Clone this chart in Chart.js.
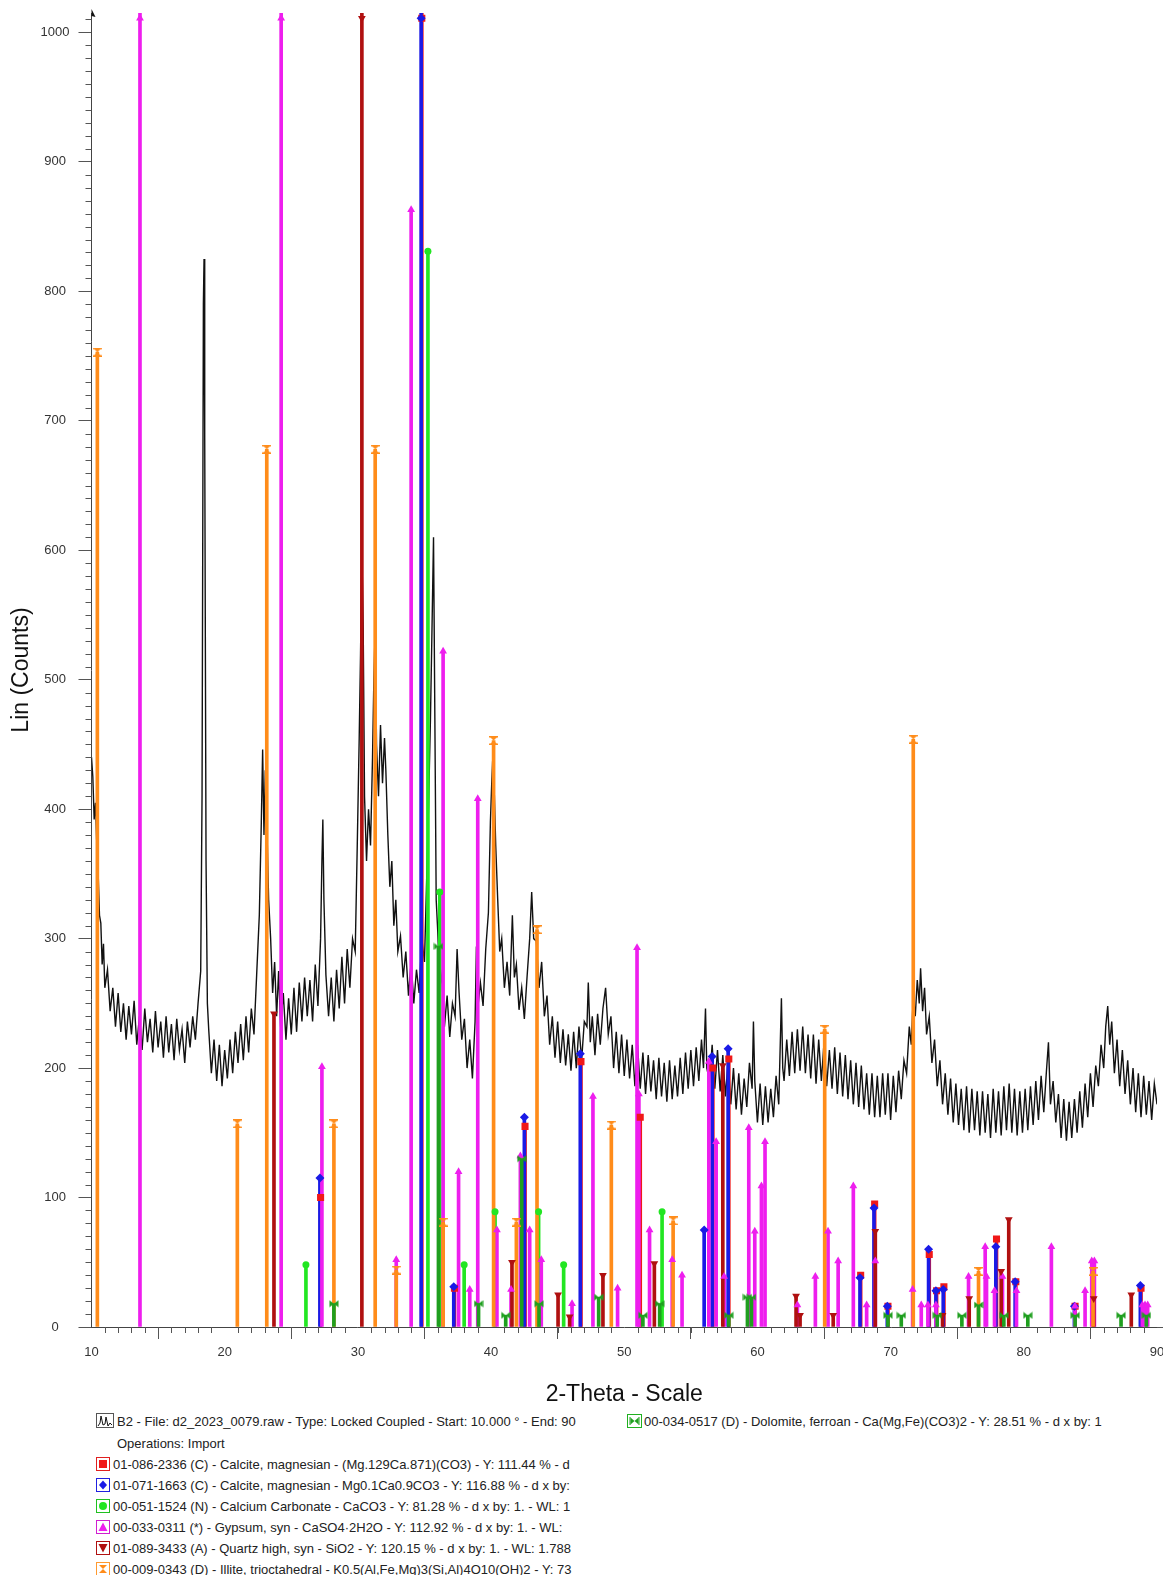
<!DOCTYPE html>
<html>
<head>
<meta charset="utf-8">
<script src="https://cdn.jsdelivr.net/npm/chart.js@4.4.0/dist/chart.umd.min.js"></script>
<style>
    body { margin: 0; background: #fff; width: 1163px; height: 1575px; overflow: hidden; position: relative; font-family: "Liberation Sans", Arial, sans-serif; }
    #myChart { position: absolute; left: 0; top: 0; }
    .row { position: absolute; font-size: 13px; color: #222; white-space: nowrap; overflow: hidden; height: 17px; line-height: 17px; }
    .icon { position: absolute; }
</style>
</head>
<body>
<canvas id="myChart" width="1163" height="1410"></canvas>

<svg class="icon" style="left:96px;top:1413px" width="18" height="15">
    <rect x="0.5" y="0.5" width="17" height="14" fill="#fff" stroke="#555"/>
    <polyline points="2,13 4,10 5,3 7,12 9,11 10,4 12,13 14,10 16,12" fill="none" stroke="#111" stroke-width="1"/>
</svg>
<div class="row" style="left:117px;top:1413px;width:512px">B2 - File: d2_2023_0079.raw - Type: Locked Coupled - Start: 10.000 ° - End: 90</div>
<div class="row" style="left:117px;top:1435px;width:512px">Operations: Import</div>

<svg class="icon" style="left:96px;top:1457px" width="14" height="14">
    <rect x="0.5" y="0.5" width="13" height="13" fill="#fff" stroke="#e02020"/>
    <rect x="3" y="3" width="8" height="8" fill="#f01818"/>
</svg>
<div class="row" style="left:113px;top:1456px;width:516px">01-086-2336 (C) - Calcite, magnesian - (Mg.129Ca.871)(CO3) - Y: 111.44 % - d</div>

<svg class="icon" style="left:96px;top:1478px" width="14" height="14">
    <rect x="0.5" y="0.5" width="13" height="13" fill="#fff" stroke="#2020e0"/>
    <polygon points="7,2.5 11,7 7,11.5 3,7" fill="#1a1ae6"/>
</svg>
<div class="row" style="left:113px;top:1477px;width:516px">01-071-1663 (C) - Calcite, magnesian - Mg0.1Ca0.9CO3 - Y: 116.88 % - d x by:</div>

<svg class="icon" style="left:96px;top:1499px" width="14" height="14">
    <rect x="0.5" y="0.5" width="13" height="13" fill="#fff" stroke="#20c020"/>
    <circle cx="7" cy="7" r="4" fill="#22e622"/>
</svg>
<div class="row" style="left:113px;top:1498px;width:516px">00-051-1524 (N) - Calcium Carbonate - CaCO3 - Y: 81.28 % - d x by: 1. - WL: 1</div>

<svg class="icon" style="left:96px;top:1520px" width="14" height="14">
    <rect x="0.5" y="0.5" width="13" height="13" fill="#fff" stroke="#d020d0"/>
    <polygon points="7,2.5 11.5,11 2.5,11" fill="#ee1eee"/>
</svg>
<div class="row" style="left:113px;top:1519px;width:516px">00-033-0311 (*) - Gypsum, syn - CaSO4·2H2O - Y: 112.92 % - d x by: 1. - WL:</div>

<svg class="icon" style="left:96px;top:1541px" width="14" height="14">
    <rect x="0.5" y="0.5" width="13" height="13" fill="#fff" stroke="#b01010"/>
    <polygon points="2.5,3 11.5,3 7,11.5" fill="#b01010"/>
</svg>
<div class="row" style="left:113px;top:1540px;width:516px">01-089-3433 (A) - Quartz high, syn - SiO2 - Y: 120.15 % - d x by: 1. - WL: 1.788</div>

<svg class="icon" style="left:96px;top:1562px" width="14" height="14">
    <rect x="0.5" y="0.5" width="13" height="13" fill="#fff" stroke="#ff9a30"/>
    <polygon points="3,3 11,3 7,7 11,11 3,11 7,7" fill="#ff8c1a"/>
</svg>
<div class="row" style="left:113px;top:1561px;width:516px">00-009-0343 (D) - Illite, trioctahedral - K0.5(Al,Fe,Mg)3(Si,Al)4O10(OH)2 - Y: 73</div>

<svg class="icon" style="left:627px;top:1414px" width="15" height="14">
    <rect x="0.5" y="0.5" width="14" height="13" fill="#fff" stroke="#20b020"/>
    <polygon points="3.5,3.5 7.5,7 3.5,10.5" fill="#1f9f1f"/>
    <polygon points="11.5,3.5 7.5,7 11.5,10.5" fill="#1f9f1f"/>
    <line x1="3" y1="3" x2="3" y2="11" stroke="#1f9f1f"/>
    <line x1="12" y1="3" x2="12" y2="11" stroke="#1f9f1f"/>
</svg>
<div class="row" style="left:644px;top:1413px;width:510px">00-034-0517 (D) - Dolomite, ferroan - Ca(Mg,Fe)(CO3)2 - Y: 28.51 % - d x by: 1</div>

<script>
// axis ranges
var xMin = 10, xMax = 90;
var yMin = 0, yMax = 1015;
var markerCap = 1011; // clipped sticks show their marker at the top of the plot

// measured scan, [2-theta, counts]
var scanPoints = [
    [10.0, 440], [10.1, 425], [10.2, 392], [10.3, 405], [10.4, 372], [10.5, 350], [10.6, 318], [10.7, 312], [10.8, 280], [10.9, 296],
    [11.0, 262], [11.2, 276], [11.4, 244], [11.6, 262], [11.8, 232], [12.0, 258], [12.2, 228], [12.4, 250], [12.6, 222], [12.8, 248],
    [13.0, 226], [13.2, 252], [13.4, 218], [13.6, 240], [13.8, 214], [14.0, 246], [14.2, 220], [14.4, 238], [14.6, 212], [14.8, 244],
    [15.0, 216], [15.2, 236], [15.4, 208], [15.6, 240], [15.8, 212], [16.0, 234], [16.2, 206], [16.4, 238], [16.6, 214], [16.8, 230],
    [17.0, 204], [17.2, 236], [17.4, 216], [17.6, 240], [17.8, 222], [18.0, 250], [18.2, 275], [18.3, 410], [18.4, 790], [18.45, 825],
    [18.5, 690], [18.6, 360], [18.7, 250], [18.8, 230], [19.0, 196], [19.2, 222], [19.4, 190], [19.6, 218], [19.8, 186], [20.0, 214],
    [20.2, 192], [20.4, 222], [20.6, 196], [20.8, 228], [21.0, 204], [21.2, 234], [21.4, 206], [21.6, 240], [21.8, 212], [22.0, 246],
    [22.2, 226], [22.4, 272], [22.6, 318], [22.75, 390], [22.85, 446], [22.95, 380], [23.05, 430], [23.15, 395], [23.3, 330], [23.45, 300],
    [23.6, 258], [23.75, 282], [23.9, 240], [24.05, 275], [24.2, 232], [24.4, 258], [24.6, 222], [24.8, 254], [25.0, 226], [25.2, 262],
    [25.4, 228], [25.6, 266], [25.8, 236], [26.0, 270], [26.2, 240], [26.4, 268], [26.6, 236], [26.8, 280], [27.0, 248], [27.2, 300],
    [27.3, 360], [27.37, 392], [27.45, 330], [27.6, 272], [27.8, 240], [28.0, 270], [28.2, 236], [28.4, 276], [28.6, 246], [28.8, 286],
    [29.0, 250], [29.2, 292], [29.4, 262], [29.6, 300], [29.8, 290], [29.95, 370], [30.1, 455], [30.2, 520], [30.3, 600], [30.4, 540],
    [30.5, 410], [30.65, 360], [30.8, 400], [30.95, 372], [31.1, 440], [31.2, 500], [31.3, 540], [31.4, 450], [31.55, 410], [31.7, 465],
    [31.85, 420], [32.0, 455], [32.1, 430], [32.25, 380], [32.4, 340], [32.55, 360], [32.7, 310], [32.85, 330], [33.0, 290], [33.2, 302],
    [33.4, 270], [33.6, 290], [33.8, 256], [34.0, 282], [34.2, 250], [34.4, 276], [34.6, 258], [34.8, 300], [35.0, 282], [35.15, 340],
    [35.3, 400], [35.45, 470], [35.55, 530], [35.68, 610], [35.78, 470], [35.88, 330], [36.0, 305], [36.15, 262], [36.3, 272], [36.5, 232],
    [36.7, 256], [36.9, 224], [37.1, 250], [37.3, 240], [37.45, 292], [37.6, 258], [37.8, 222], [38.0, 238], [38.2, 200], [38.4, 222],
    [38.6, 192], [38.8, 236], [38.9, 294], [39.0, 246], [39.2, 266], [39.4, 248], [39.6, 292], [39.8, 320], [39.95, 390], [40.05, 420],
    [40.15, 445], [40.25, 410], [40.35, 372], [40.5, 330], [40.65, 290], [40.8, 300], [41.0, 262], [41.2, 282], [41.4, 256], [41.6, 318],
    [41.75, 270], [41.9, 280], [42.1, 245], [42.3, 262], [42.5, 238], [42.7, 270], [42.9, 300], [43.05, 336], [43.2, 300], [43.4, 298],
    [43.6, 262], [43.8, 282], [44.0, 240], [44.2, 256], [44.4, 218], [44.6, 240], [44.8, 208], [45.0, 236], [45.2, 204], [45.4, 230],
    [45.6, 202], [45.8, 226], [46.0, 198], [46.2, 228], [46.4, 200], [46.6, 232], [46.8, 206], [47.0, 236], [47.2, 232], [47.3, 266],
    [47.45, 220], [47.6, 240], [47.8, 210], [48.0, 242], [48.2, 218], [48.4, 246], [48.6, 262], [48.8, 226], [49.0, 240], [49.2, 200],
    [49.4, 228], [49.6, 196], [49.8, 226], [50.0, 194], [50.2, 222], [50.4, 192], [50.6, 218], [50.8, 186], [51.0, 218], [51.2, 184],
    [51.4, 212], [51.6, 180], [51.8, 210], [52.0, 182], [52.2, 206], [52.4, 176], [52.6, 208], [52.8, 178], [53.0, 204], [53.2, 174],
    [53.4, 206], [53.6, 176], [53.8, 202], [54.0, 178], [54.2, 208], [54.4, 180], [54.6, 212], [54.8, 184], [55.0, 214], [55.2, 186],
    [55.4, 216], [55.6, 190], [55.8, 222], [55.95, 200], [56.1, 246], [56.2, 200], [56.4, 190], [56.6, 218], [56.8, 184], [57.0, 214],
    [57.2, 182], [57.4, 210], [57.6, 178], [57.8, 206], [58.0, 172], [58.2, 200], [58.4, 168], [58.6, 196], [58.8, 164], [59.0, 192],
    [59.2, 170], [59.4, 204], [59.6, 184], [59.7, 236], [59.8, 190], [60.0, 158], [60.2, 188], [60.4, 156], [60.6, 186], [60.8, 158],
    [61.0, 184], [61.2, 162], [61.4, 194], [61.6, 172], [61.8, 254], [61.9, 200], [62.0, 190], [62.2, 222], [62.4, 194], [62.6, 228],
    [62.8, 196], [63.0, 230], [63.2, 198], [63.4, 232], [63.6, 196], [63.8, 226], [64.0, 192], [64.2, 226], [64.4, 188], [64.6, 222],
    [64.8, 190], [65.0, 220], [65.2, 186], [65.4, 214], [65.6, 184], [65.8, 216], [66.0, 180], [66.2, 212], [66.4, 178], [66.6, 210],
    [66.8, 176], [67.0, 206], [67.2, 172], [67.4, 204], [67.6, 170], [67.8, 202], [68.0, 168], [68.2, 196], [68.4, 164], [68.6, 196],
    [68.8, 162], [69.0, 194], [69.2, 162], [69.4, 196], [69.6, 164], [69.8, 196], [70.0, 160], [70.2, 194], [70.4, 166], [70.6, 198],
    [70.8, 176], [71.0, 206], [71.2, 196], [71.4, 232], [71.55, 218], [71.7, 256], [71.85, 240], [72.0, 268], [72.15, 250], [72.25, 277],
    [72.4, 244], [72.55, 262], [72.7, 226], [72.9, 240], [73.1, 204], [73.3, 222], [73.5, 186], [73.7, 206], [73.9, 172], [74.1, 196],
    [74.3, 164], [74.5, 192], [74.7, 158], [74.9, 188], [75.1, 156], [75.3, 184], [75.5, 152], [75.7, 186], [75.9, 150], [76.1, 184],
    [76.3, 152], [76.5, 182], [76.7, 148], [76.9, 182], [77.1, 150], [77.3, 180], [77.5, 146], [77.7, 184], [77.9, 150], [78.1, 182],
    [78.3, 148], [78.5, 186], [78.7, 152], [78.9, 188], [79.1, 150], [79.3, 184], [79.5, 148], [79.7, 182], [79.9, 150], [80.1, 184],
    [80.3, 152], [80.5, 186], [80.7, 156], [80.9, 190], [81.1, 160], [81.3, 194], [81.5, 166], [81.7, 198], [81.85, 220], [82.0, 172],
    [82.2, 190], [82.4, 158], [82.6, 180], [82.8, 146], [83.0, 176], [83.2, 144], [83.4, 174], [83.6, 146], [83.8, 176], [84.0, 150],
    [84.2, 182], [84.4, 154], [84.6, 188], [84.8, 162], [85.0, 196], [85.2, 170], [85.4, 202], [85.6, 186], [85.8, 218], [86.0, 200],
    [86.15, 232], [86.3, 248], [86.45, 218], [86.6, 236], [86.8, 196], [87.0, 222], [87.2, 186], [87.4, 214], [87.6, 180], [87.8, 206],
    [88.0, 172], [88.2, 200], [88.4, 166], [88.6, 196], [88.8, 162], [89.0, 194], [89.2, 164], [89.4, 190], [89.6, 160], [89.8, 188],
    [90.0, 172]
];

// reference patterns: stick positions (2-theta) and heights (counts)
var calciteAPos = [27.2, 34.8, 37.25, 42.55, 46.75, 51.2, 56.65, 57.85, 67.75, 68.8, 69.8, 72.9, 73.45, 74.0, 77.95, 79.4, 83.85, 88.8];
var calciteAH   = [100, 1100, 30, 155, 205, 162, 200, 207, 40, 95, 16, 56, 28, 31, 68, 35, 16, 30];

var calciteBPos = [27.15, 34.75, 37.2, 42.5, 46.7, 56.0, 56.6, 57.8, 67.7, 68.75, 69.75, 72.85, 73.4, 73.95, 77.9, 79.35, 83.8, 88.75];
var calciteBH   = [115, 1100, 31, 162, 211, 75, 209, 215, 38, 92, 16, 60, 28, 29, 62, 35, 16, 32];

var caco3Pos = [26.1, 35.26, 36.15, 37.98, 40.3, 43.57, 45.45, 52.84];
var caco3H   = [48, 831, 336, 48, 89, 89, 48, 89];

var gypsumPos = [13.64, 24.24, 27.3, 32.88, 34.0, 36.4, 37.56, 38.4, 39.0, 40.44, 41.5, 42.2, 42.9, 43.77, 46.08, 47.65, 49.5, 50.96,
    51.1, 51.9, 53.6, 54.34, 56.35, 56.9, 57.5, 59.35, 59.8, 60.3, 60.57, 63.0, 64.35, 65.3, 66.06, 67.2, 68.2, 68.85, 71.65, 72.3,
    72.8, 73.4, 75.85, 77.1, 77.2, 77.8, 78.4, 79.45, 82.07, 83.84, 84.6, 85.1, 85.3, 88.9, 89.1, 89.3];
var gypsumH = [1100, 1100, 201, 52, 863, 522, 120, 29, 408, 75, 29, 132, 75, 52, 18, 178, 30, 293,
    180, 75, 52, 40, 205, 143, 39, 154, 74, 109, 143, 17, 39, 74, 51, 109, 17, 51, 29, 17,
    17, 17, 39, 62, 39, 28, 39, 28, 62, 16, 28, 51, 51, 17, 17, 17];

var quartzPos = [23.7, 30.3, 41.57, 45.03, 45.9, 48.4, 52.26, 57.4, 62.9, 63.2, 65.69, 68.85, 73.9, 75.9, 78.3, 78.87, 85.25, 88.07];
var quartzH   = [242, 1100, 50, 25, 8, 40, 49, 202, 24, 9, 9, 74, 9, 22, 43, 83, 22, 25];

var illitePos = [10.44, 20.95, 23.16, 28.2, 31.3, 32.88, 36.4, 40.19, 41.9, 43.45, 49.03, 53.67, 65.05, 71.7, 76.6, 85.2];
var illiteH   = [753, 157, 678, 157, 678, 44, 81, 453, 81, 307, 156, 82, 230, 454, 43, 43];

var dolomitePos = [28.2, 36.05, 39.06, 41.1, 42.3, 43.6, 48.08, 51.4, 52.66, 57.85, 59.25, 59.55, 69.8, 70.8, 73.5, 75.35, 76.6, 78.5, 80.3, 83.85, 87.3, 89.2];
var dolomiteH   = [18, 294, 18, 9, 130, 18, 23, 9, 18, 9, 23, 23, 9, 9, 9, 9, 17, 9, 9, 9, 9, 9];

// little canvases for the two marker shapes Chart.js doesn't have
function makeHourglass(color) {
    var c = document.createElement('canvas');
    c.width = 9; c.height = 9;
    var g = c.getContext('2d');
    g.fillStyle = color;
    g.fillRect(0, 0, 9, 1.5);
    g.fillRect(0, 7.5, 9, 1.5);
    g.beginPath();
    g.moveTo(1, 1); g.lineTo(8, 1); g.lineTo(4.5, 4.5); g.lineTo(8, 8); g.lineTo(1, 8); g.lineTo(4.5, 4.5);
    g.closePath();
    g.fill();
    return c;
}
function makeBowtie(color) {
    var c = document.createElement('canvas');
    c.width = 10; c.height = 8;
    var g = c.getContext('2d');
    g.fillStyle = color;
    g.beginPath(); g.moveTo(0.5, 0.5); g.lineTo(5, 4); g.lineTo(0.5, 7.5); g.closePath(); g.fill();
    g.beginPath(); g.moveTo(9.5, 0.5); g.lineTo(5, 4); g.lineTo(9.5, 7.5); g.closePath(); g.fill();
    return c;
}

var phases = [
    { pos: dolomitePos, h: dolomiteH, color: '#1f9f1f', style: makeBowtie('#1f9f1f'), r: 4, rot: 0 },
    { pos: illitePos, h: illiteH, color: '#ff8c1a', style: makeHourglass('#ff8c1a'), r: 4, rot: 0 },
    { pos: quartzPos, h: quartzH, color: '#b01010', style: 'triangle', r: 4.5, rot: 180 },
    { pos: gypsumPos, h: gypsumH, color: '#ee1eee', style: 'triangle', r: 4.5, rot: 0 },
    { pos: caco3Pos, h: caco3H, color: '#22e622', style: 'circle', r: 3.5, rot: 0 },
    { pos: calciteBPos, h: calciteBH, color: '#1a1ae6', style: 'rectRot', r: 4.5, rot: 0 },
    { pos: calciteAPos, h: calciteAH, color: '#f01818', style: 'rect', r: 5, rot: 0 }
];

var markerSets = [];
var stickSets = [];
phases.forEach(function (p) {
    markerSets.push({
        type: 'scatter',
        data: p.pos.map(function (x, i) { return { x: x, y: Math.min(p.h[i], markerCap) }; }),
        pointStyle: p.style,
        pointRadius: p.r,
        rotation: p.rot,
        backgroundColor: p.color,
        borderColor: p.color,
        borderWidth: 0,
        order: 0
    });
    stickSets.push({
        type: 'bar',
        data: p.pos.map(function (x, i) { return { x: x, y: p.h[i] }; }),
        backgroundColor: p.color,
        barThickness: 3,
        grouped: false,
        order: 1
    });
});

var traceSet = {
    type: 'line',
    data: scanPoints.map(function (pt) { return { x: pt[0], y: pt[1] }; }),
    borderColor: '#111',
    borderWidth: 1.4,
    pointRadius: 0,
    tension: 0,
    order: 2
};

// minor ticks, axis arrow and the axis line running off to the right edge
var axisExtras = {
    id: 'axisExtras',
    afterDraw: function (chart) {
        var ctx = chart.ctx, area = chart.chartArea, xs = chart.scales.x, ys = chart.scales.y;
        ctx.save();
        ctx.strokeStyle = '#555';
        ctx.lineWidth = 1;
        ctx.beginPath();
        for (var v = 10; v <= 1010; v += 10) {
            if (v % 100 === 0) continue;
            var py = Math.round(ys.getPixelForValue(v)) + 0.5;
            ctx.moveTo(area.left - 6, py);
            ctx.lineTo(area.left, py);
        }
        for (var t = xMin + 1; t < xMax; t++) {
            if (t % 10 === 0) continue;
            var px = Math.round(xs.getPixelForValue(t)) + 0.5;
            ctx.moveTo(px, area.bottom);
            ctx.lineTo(px, area.bottom + 6);
        }
        ctx.moveTo(area.right, Math.round(area.bottom) + 0.5);
        ctx.lineTo(chart.width, Math.round(area.bottom) + 0.5);
        ctx.stroke();
        ctx.fillStyle = '#111';
        ctx.beginPath();
        ctx.moveTo(area.left, area.top - 4);
        ctx.lineTo(area.left + 4, area.top + 4);
        ctx.lineTo(area.left, area.top + 3);
        ctx.closePath();
        ctx.fill();
        ctx.restore();
    }
};

var tickFont = { family: 'Liberation Sans', size: 13 };
var titleFont = { family: 'Liberation Sans', size: 23 };

function createChart() {
    var ctx = document.getElementById('myChart').getContext('2d');
    new Chart(ctx, {
        type: 'scatter',
        data: { datasets: markerSets.concat(stickSets).concat([traceSet]) },
        plugins: [axisExtras],
        options: {
            responsive: false,
            animation: false,
            devicePixelRatio: 1,
            layout: { padding: { left: 0, top: 13, right: 6, bottom: 0 } },
            plugins: { legend: { display: false }, tooltip: { enabled: false } },
            scales: {
                x: {
                    type: 'linear',
                    min: xMin,
                    max: xMax,
                    offset: false,
                    grid: { drawOnChartArea: false, drawTicks: true, tickLength: 12, color: '#555' },
                    border: { color: '#444', width: 1 },
                    ticks: { stepSize: 10, maxRotation: 0, autoSkip: false, padding: 6, color: '#333', font: tickFont,
                        callback: function (v) { return String(v); } },
                    title: { display: true, text: '2-Theta - Scale', color: '#111', font: titleFont, padding: { top: 0, bottom: 2 } },
                    afterFit: function (s) { s.height = 83; s.paddingLeft = 0; s.paddingRight = 0; }
                },
                y: {
                    min: yMin,
                    max: yMax,
                    grid: { drawOnChartArea: false, drawTicks: true, tickLength: 13, color: '#555' },
                    border: { color: '#444', width: 1 },
                    ticks: { stepSize: 100, includeBounds: false, crossAlign: 'center', padding: 9, color: '#333', font: tickFont,
                        callback: function (v) { return String(v); } },
                    title: { display: true, text: 'Lin (Counts)', color: '#111', font: titleFont, padding: { top: 8, bottom: 0 } },
                    afterFit: function (s) { s.width = 91.5; s.paddingTop = 0; s.paddingBottom = 0; }
                }
            }
        }
    });
}
createChart();
</script>
</body>
</html>
